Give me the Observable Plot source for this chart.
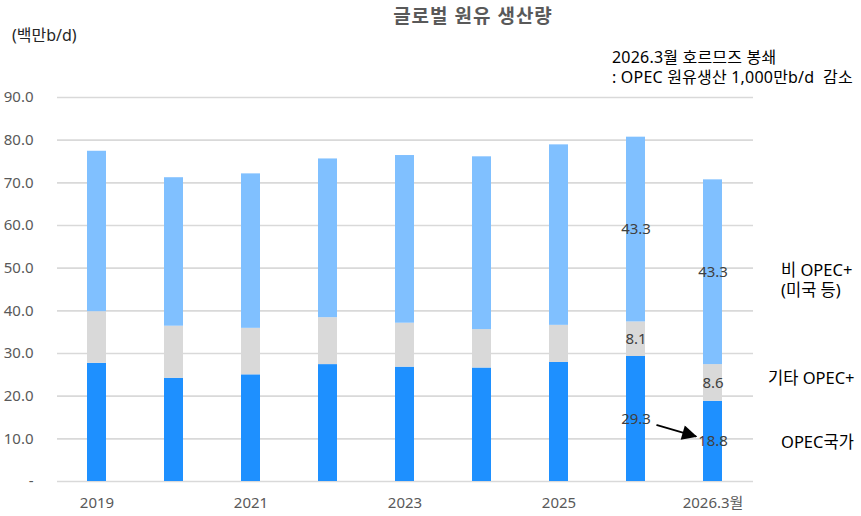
<!DOCTYPE html>
<html><head><meta charset="utf-8">
<script src="https://cdn.jsdelivr.net/npm/d3@7"></script>
<script src="https://cdn.jsdelivr.net/npm/@observablehq/plot@0.6"></script>
<style>
body{margin:0;background:#fff;}
#wrap{position:relative;width:861px;height:516px;font-family:"Noto Sans","Noto Sans CJK KR",sans-serif;overflow:hidden;}
#wrap svg{position:absolute;left:0;top:0;}
.t{position:absolute;white-space:pre;line-height:1;transform:translateY(-50%);}
</style></head><body><div id="wrap"></div>
<script>
const categories = ["2019","2020","2021","2022","2023","2024","2025","2026","2026.3월"];
const series = ["OPEC국가","기타 OPEC+","비 OPEC+"];
const opec = [27.7,24.2,25.0,27.4,26.8,26.6,27.9,29.3,18.8];
const otherOpecPlus = [12.1,12.2,10.9,11.0,10.3,9.0,8.7,8.1,8.6];
const nonOpecPlus = [37.6,34.8,36.2,37.2,39.3,40.5,42.3,43.3,43.3];
const labeledCategories = ["2026","2026.3월"];
const xTickLabels = ["2019","2021","2023","2025","2026.3월"];
const yTickValues = [0,10,20,30,40,50,60,70,80,90];
const seriesColors = ["#1e90ff","#d9d9d9","#80c0ff"];

const title = "글로벌 원유 생산량";
const unitLabel = "(백만b/d)";
const noteLines = ["2026.3월 호르므즈 봉쇄", ": OPEC 원유생산 1,000만b/d  감소"];
const legendLabels = ["비 OPEC+\n(미국 등)", "기타 OPEC+", "OPEC국가"];

const valuesBySeries = [opec, otherOpecPlus, nonOpecPlus];
const rows = [];
categories.forEach((c, i) => {
  series.forEach((s, j) => rows.push({cat: c, series: s, value: valuesBySeries[j][i]}));
});
const arrowRow = [{from: categories[7], to: categories[8], y1: opec[7] / 2, y2: opec[8] / 2}];

const plot = Plot.plot({
  width: 861,
  height: 516,
  marginLeft: 57,
  marginRight: 108,
  marginTop: 97,
  marginBottom: 35,
  style: {fontFamily: '"Noto Sans","Noto Sans CJK KR",sans-serif', fontSize: "15px", background: "transparent"},
  x: {domain: categories, paddingInner: 0.75, paddingOuter: 0.375, label: null},
  y: {domain: [0, 90], label: null},
  color: {domain: series, range: seriesColors},
  marks: [
    Plot.ruleY(yTickValues, {stroke: "#d9d9d9", strokeWidth: 1.6}),
    Plot.barY(rows, {x: "cat", y: "value", fill: "series", z: "series"}),
    Plot.text(rows, Plot.stackY({x: "cat", y: "value", z: "series",
      text: d => labeledCategories.includes(d.cat) ? d.value.toFixed(1) : null,
      fill: "#404040", fontSize: 15})),
    Plot.arrow(arrowRow, {x1: "from", x2: "to", y1: "y1", y2: "y2", insetStart: 22, insetEnd: 18,
      headLength: 0, stroke: "#000", strokeWidth: 1.8}),
    Plot.axisX({ticks: xTickLabels, tickSize: 0, tickPadding: 16, fill: "#595959", fontSize: 15}),
    Plot.axisY({ticks: yTickValues, tickSize: 0, tickPadding: 24, fill: "#595959", fontSize: 15,
      tickFormat: d => d === 0 ? "-" : d.toFixed(1)})
  ]
});

// filled triangular arrowhead
const svgNS = "http://www.w3.org/2000/svg";
const defs = document.createElementNS(svgNS, "defs");
const marker = document.createElementNS(svgNS, "marker");
marker.setAttribute("id", "tri");
marker.setAttribute("viewBox", "0 0 10 10");
marker.setAttribute("refX", "9");
marker.setAttribute("refY", "5");
marker.setAttribute("markerUnits", "userSpaceOnUse");
marker.setAttribute("markerWidth", "19");
marker.setAttribute("markerHeight", "15");
marker.setAttribute("orient", "auto");
const mp = document.createElementNS(svgNS, "path");
mp.setAttribute("d", "M0,0L10,5L0,10Z");
mp.setAttribute("fill", "#000");
marker.appendChild(mp);
defs.appendChild(marker);
plot.insertBefore(defs, plot.firstChild);
plot.querySelectorAll('g[aria-label="arrow"] path').forEach(p => p.setAttribute("marker-end", "url(#tri)"));

const wrap = document.getElementById("wrap");
wrap.appendChild(plot);

function addText(txt, left, top, css) {
  const d = document.createElement("div");
  d.className = "t";
  d.textContent = txt;
  d.style.left = left + "px";
  d.style.top = top + "px";
  Object.assign(d.style, css || {});
  wrap.appendChild(d);
  return d;
}
addText(title, 473, 16, {transform: "translate(-50%,-50%)", fontSize: "19px", fontWeight: "bold", color: "#595959", letterSpacing: "1px"});
addText(unitLabel, 12, 35, {fontSize: "16px", color: "#262626"});
addText(noteLines.join("\n"), 612, 67, {fontSize: "16px", color: "#000", letterSpacing: "0.2px", lineHeight: "20px"});
addText(legendLabels[0], 781, 280, {fontSize: "16.5px", color: "#000", lineHeight: "20px"});
addText(legendLabels[1], 768, 378, {fontSize: "16.5px", color: "#000"});
addText(legendLabels[2], 781, 442, {fontSize: "16.5px", color: "#000"});
</script></body></html>
